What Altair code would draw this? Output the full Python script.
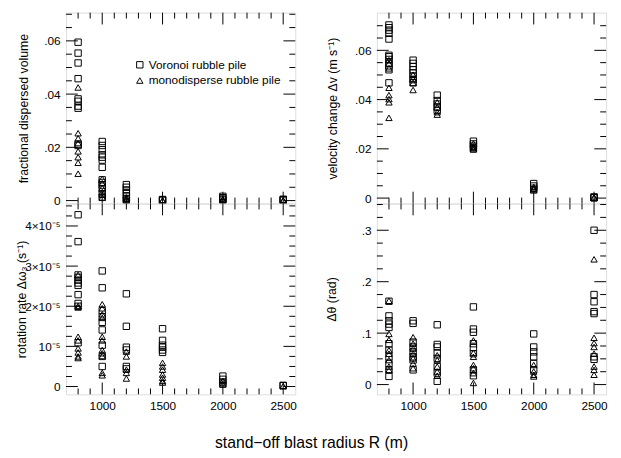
import altair as alt
import pandas as pd

# ---------------- data ----------------
SERIES = ["Voronoi rubble pile", "monodisperse rubble pile"]

vol_voronoi = {
    800: [0.0595, 0.0554, 0.0517, 0.0458, 0.0382, 0.0373, 0.0355, 0.0347, 0.0212, 0.0207],
    1000: [0.0222, 0.0207, 0.0191, 0.0172, 0.0163, 0.0152, 0.0125, 0.0078, 0.0068, 0.0058, 0.0045, 0.0025, 0.0012],
    1200: [0.0060, 0.0050, 0.0040, 0.0030, 0.0018, 0.0008, 0.0002],
    1500: [0.0004, 0.0002, 0.0001],
    2000: [0.0016, 0.0011, 0.0006, 0.0002],
    2500: [0.0005, 0.0003, 0.0001],
}
vol_mono = {
    800: [0.0425, 0.0253, 0.0234, 0.0216, 0.0185, 0.0163, 0.0142, 0.0101],
    1000: [0.0082, 0.0065, 0.0048, 0.0032, 0.0022, 0.0012],
    1200: [0.0012, 0.0006, 0.0002],
    1500: [0.0001, 0.0],
    2000: [0.0006, 0.0002],
    2500: [0.0001, 0.0],
}
dv_voronoi = {
    800: [0.0703, 0.0692, 0.0682, 0.0669, 0.0646, 0.0580, 0.0574, 0.0563, 0.0547, 0.0537, 0.0521, 0.0468],
    1000: [0.0560, 0.0547, 0.0534, 0.0521, 0.0508, 0.0495, 0.0481, 0.0468],
    1200: [0.0418, 0.0396, 0.0382, 0.0369, 0.0356],
    1500: [0.0231, 0.0220, 0.0211, 0.0200],
    2000: [0.0059, 0.0049, 0.0040, 0.0033],
    2500: [0.0005, 0.0002, 0.0001],
}
dv_mono = {
    800: [0.0560, 0.0547, 0.0527, 0.0448, 0.0418, 0.0402, 0.0389, 0.0326],
    1000: [0.0501, 0.0484, 0.0468, 0.0439],
    1200: [0.0389, 0.0369, 0.0349, 0.0339],
    1500: [0.0222, 0.0210, 0.0204, 0.0198],
    2000: [0.0045, 0.0040, 0.0035],
    2500: [0.0003, 0.0001],
}
# rotation rate in units of 1e-5 s^-1
rot_voronoi = {
    800: [4.28, 3.61, 2.78, 2.72, 2.65, 2.58, 2.52, 2.29, 2.07, 2.00, 1.09],
    1000: [2.88, 2.46, 1.89, 1.74, 1.60, 1.41, 1.03, 0.75, 0.50],
    1200: [2.31, 1.50, 0.98, 0.91, 0.50, 0.44],
    1500: [1.44, 1.15, 1.03, 0.98, 0.91, 0.85],
    2000: [0.26, 0.18, 0.11, 0.06],
    2500: [0.03, 0.02],
}
rot_mono = {
    800: [2.78, 2.01, 1.97, 1.24, 1.15, 0.95, 0.85, 0.75, 0.71],
    1000: [2.05, 1.95, 1.80, 1.71, 1.24, 1.15, 0.91, 0.83, 0.76, 0.34, 0.28],
    1200: [0.87, 0.75, 0.42, 0.34, 0.20],
    1500: [0.59, 0.50, 0.42, 0.30, 0.22, 0.14, 0.10],
    2000: [0.14, 0.06],
    2500: [0.01],
}
dth_voronoi = {
    800: [0.162, 0.1335, 0.124, 0.1176, 0.111, 0.0795, 0.0668, 0.054, 0.041, 0.0286, 0.0159],
    1000: [0.124, 0.119, 0.0826, 0.0731, 0.0636, 0.054, 0.0477, 0.0286],
    1200: [0.1163, 0.078, 0.0731, 0.0617, 0.0509, 0.035, 0.0222, 0.0064],
    1500: [0.151, 0.108, 0.1017, 0.0795, 0.0718, 0.060, 0.0286, 0.0172],
    2000: [0.0985, 0.0731, 0.0636, 0.054, 0.041, 0.0286],
    2500: [0.300, 0.175, 0.161, 0.1418, 0.138, 0.054, 0.049],
}
dth_mono = {
    800: [0.163, 0.0985, 0.087, 0.0668, 0.060, 0.0477, 0.035, 0.0286],
    1000: [0.092, 0.0795, 0.070, 0.060, 0.0509, 0.041, 0.0318],
    1200: [0.057, 0.0477, 0.035, 0.0254, 0.0172],
    1500: [0.0858, 0.0617, 0.054, 0.0381, 0.0318, 0.0222, 0.0032],
    2000: [0.0381, 0.0254, 0.0191, 0.0159],
    2500: [0.2435, 0.0909, 0.0807, 0.0731, 0.060, 0.035, 0.0286, 0.0191],
}

# axis ticks
X_DOMAIN = [700, 2600]
X_MAJOR = [1000, 1500, 2000, 2500]
X_MINOR = [800, 900, 1100, 1200, 1300, 1400, 1600, 1700, 1800, 1900, 2100, 2200, 2300, 2400]

Y_MAJOR_SMALL = [0, 0.02, 0.04, 0.06]
Y_MINOR_SMALL = [0.005, 0.01, 0.015, 0.025, 0.03, 0.035, 0.045, 0.05, 0.055, 0.065, 0.07]
Y_MAJOR_ROT = [0, 1, 2, 3, 4]
Y_MINOR_ROT = [0.25, 0.5, 0.75, 1.25, 1.5, 1.75, 2.25, 2.5, 2.75, 3.25, 3.5, 3.75, 4.25, 4.5]
Y_MAJOR_TH = [0, 0.1, 0.2, 0.3]
Y_MINOR_TH = [0.025, 0.05, 0.075, 0.125, 0.15, 0.175, 0.225, 0.25, 0.275, 0.325, 0.35]

W, H = 233, 194
FONT = "Liberation Sans"
MINOR_LEN, MAJOR_LEN = 6, 12


def to_df(vor, mono):
    rows = []
    for name, d in ((SERIES[0], vor), (SERIES[1], mono)):
        for r, vals in d.items():
            for v in vals:
                rows.append({"R": r, "val": v, "series": name})
    return pd.DataFrame(rows)


def panel(df, ydom, ymaj, ymin, label_expr, title, title_x, xlabels, legend):
    xs = alt.Scale(domain=X_DOMAIN, nice=False, zero=False)
    ys = alt.Scale(domain=ydom, nice=False, zero=False)
    xaxis = alt.Axis(values=X_MAJOR, format="d", ticks=False, domain=False, grid=False,
                     labels=xlabels, labelPadding=6, labelFontSize=12, labelFont=FONT,
                     labelColor="black", title=None)
    yaxis = alt.Axis(values=ymaj, labelExpr=label_expr, ticks=False, domain=False, grid=False,
                     labelPadding=6, labelFontSize=12, labelFont=FONT, labelColor="black",
                     title=title, titleFont=FONT, titleFontSize=12.5, titleFontWeight="normal",
                     titleColor="black", titleX=title_x, titleY=H / 2, titleBaseline="middle",
                     titleAngle=270)
    shape_leg = (alt.Legend(title=None, orient="none", legendX=69, legendY=47, padding=0,
                            labelFont=FONT, labelFontSize=12, labelColor="black",
                            symbolStrokeColor="black", symbolStrokeWidth=1, symbolSize=42,
                            labelOffset=3, rowPadding=4) if legend else None)
    pts = alt.Chart(df).mark_point(filled=False, color="black", strokeWidth=1, size=42, opacity=1).encode(
        x=alt.X("R:Q", scale=xs, axis=xaxis),
        y=alt.Y("val:Q", scale=ys, axis=yaxis),
        shape=alt.Shape("series:N", scale=alt.Scale(domain=SERIES, range=["square", "triangle-up"]),
                        legend=shape_leg),
    )
    layers = [pts]

    def xr(vals, top, length):
        d = pd.DataFrame({"t": vals})
        y0 = 0 if top else H
        y1 = length if top else H - length
        return alt.Chart(d).mark_rule(color="black", strokeWidth=1).encode(
            x=alt.X("t:Q", scale=xs, axis=xaxis), y=alt.value(y0), y2=alt.value(y1))

    def yr(vals, right, length):
        d = pd.DataFrame({"t": vals})
        x0 = W if right else 0
        x1 = W - length if right else length
        return alt.Chart(d).mark_rule(color="black", strokeWidth=1).encode(
            y=alt.Y("t:Q", scale=ys, axis=yaxis), x=alt.value(x0), x2=alt.value(x1))

    for top in (True, False):
        layers.append(xr(X_MINOR, top, MINOR_LEN))
        layers.append(xr(X_MAJOR, top, MAJOR_LEN))
    for right in (False, True):
        layers.append(yr(ymin, right, MINOR_LEN))
        layers.append(yr(ymaj, right, MAJOR_LEN))
    return alt.layer(*layers).properties(width=W, height=H)


small_expr = "datum.value == 0 ? '0' : replace(format(datum.value, '.2f'), '0.', '.')"
th_expr = "datum.value == 0 ? '0' : replace(format(datum.value, '.1f'), '0.', '.')"
rot_expr = ("datum.value == 0 ? '0' : (datum.value == 1 ? '10\u207b\u2075' : "
            "format(datum.value, 'd') + '\u00d710\u207b\u2075')")

p1 = panel(to_df(vol_voronoi, vol_mono), [-0.0011, 0.0706], Y_MAJOR_SMALL, Y_MINOR_SMALL,
           small_expr, "fractional dispersed volume", -43, False, True)
p2 = panel(to_df(dv_voronoi, dv_mono), [-0.0022, 0.0753], Y_MAJOR_SMALL, Y_MINOR_SMALL,
           small_expr, "velocity change \u0394v (m s\u207b\u00b9)", -45, False, False)
p3 = panel(to_df(rot_voronoi, rot_mono), [-0.195, 4.56], Y_MAJOR_ROT, Y_MINOR_ROT,
           rot_expr, "rotation rate \u0394\u03c9\u2083 (s\u207b\u00b9)", -45, True, False)
p4 = panel(to_df(dth_voronoi, dth_mono), [-0.019, 0.352], Y_MAJOR_TH, Y_MINOR_TH,
           th_expr, "\u0394\u03b8 (rad)", -46, True, False)

chart = alt.concat(p1, p2, p3, p4, columns=2, spacing={"row": 0, "column": 83},
                   bounds="flush").properties(
    title=alt.TitleParams("stand\u2212off blast radius R (m)", orient="bottom", anchor="middle",
                          fontSize=16, font=FONT, fontWeight="normal", color="black", offset=24),
    padding={"left": 7, "top": 0, "right": 5, "bottom": 5},
).configure_view(stroke="black", strokeWidth=1).configure(background="white")

chart.save("out.html", embed_options={"renderer": "svg", "actions": False})
